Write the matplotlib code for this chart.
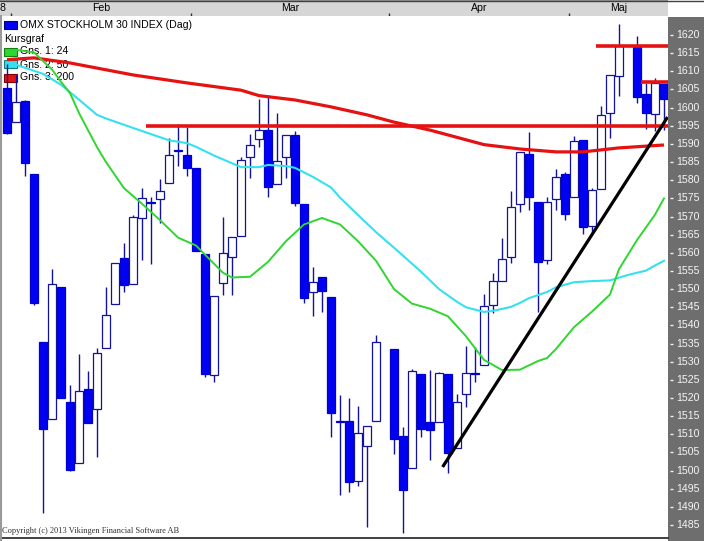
import numpy as np
import matplotlib
matplotlib.use("Agg")
import matplotlib.pyplot as plt
from matplotlib.patches import Rectangle

nan = np.nan
# ---------------- data (day index 0..73, gaps = holidays) ----------------
opens = [1605.4, 1596.1, 1601.8, 1581.7, 1535.4, 1514.1, 1550.7, 1518.9, 1502.0, 1522.5,
         1516.9, 1533.7, 1545.9, 1558.5, 1551.3, 1569.5, 1573.9, 1574.7, 1579.1, 1588.3,
         1586.9, 1583.3, 1559.7, 1526.3, 1551.6, 1558.9, 1564.6, 1586.3, 1591.3, 1593.8,
         1578.9, 1586.3, 1592.5, 1573.4, 1549.1, 1553.4, 1547.7, 1513.5, 1513.6, 1497.2,
         1506.8, 1513.6, nan, 1533.5, 1509.6, 1500.6, 1526.6, 1513.5, 1513.5, 1526.6,
         1506.1, 1521.0, 1526.7, 1529.0, 1545.6, 1552.2, 1558.8, 1573.4, 1587.2, 1573.9,
         1558.0, 1574.7, 1581.6, 1575.3, 1591.0, 1567.5, 1577.6, 1598.6, 1608.8, nan,
         1616.8, 1603.7, 1598.2, 1606.5]
highs = [1612.0, 1609.0, 1602.2, 1581.7, 1535.4, 1555.5, 1550.7, 1523.6, 1532.1, 1527.5,
         1533.7, 1550.5, 1557.3, 1562.6, 1570.4, 1577.8, 1575.3, 1580.3, 1591.5, 1595.4,
         1594.6, 1583.3, 1559.7, 1548.1, 1570.0, 1564.4, 1586.3, 1592.6, 1602.4, 1603.5,
         1598.4, 1592.4, 1593.6, 1573.4, 1556.2, 1553.4, 1547.7, 1520.8, 1520.1, 1517.8,
         1512.3, 1537.4, nan, 1533.5, 1512.1, 1528.0, 1526.6, 1527.7, 1527.2, 1526.6,
         1521.0, 1534.3, 1534.1, 1548.6, 1554.4, 1564.0, 1577.0, 1587.7, 1593.2, 1573.9,
         1575.3, 1583.0, 1582.3, 1592.2, 1591.0, 1577.8, 1600.4, 1609.0, 1623.0, nan,
         1619.8, 1606.9, 1608.2, 1606.5]
lows = [1592.7, 1596.0, 1581.2, 1545.6, 1488.4, 1514.1, 1520.0, 1500.0, 1502.0, 1513.2,
        1503.8, 1533.7, 1545.9, 1549.3, 1551.3, 1558.0, 1556.8, 1568.1, 1579.1, 1583.9,
        1581.2, 1560.6, 1525.7, 1524.5, 1548.4, 1548.4, 1564.6, 1580.5, 1589.2, 1575.5,
        1578.9, 1580.5, 1572.9, 1546.1, 1542.7, 1543.6, 1509.2, 1493.3, 1494.2, 1495.8,
        1484.5, 1513.6, nan, 1504.6, 1482.7, 1500.6, 1509.2, 1502.9, 1513.5, 1499.3,
        1506.1, 1517.6, 1524.5, 1529.0, 1543.3, 1552.2, 1557.1, 1571.2, 1571.8, 1543.8,
        1557.0, 1571.8, 1569.0, 1575.3, 1565.2, 1565.8, 1577.6, 1591.5, 1603.3, nan,
        1601.4, 1594.0, 1593.6, 1593.8]
closes = [1593.0, 1601.6, 1584.7, 1546.3, 1511.5, 1551.4, 1520.0, 1500.2, 1521.9, 1513.2,
          1532.3, 1542.8, 1557.3, 1551.0, 1570.0, 1575.0, 1573.7, 1577.1, 1586.9, 1588.1,
          1583.3, 1560.6, 1526.5, 1548.1, 1559.9, 1564.4, 1585.6, 1589.6, 1593.8, 1578.0,
          1585.3, 1592.4, 1573.7, 1547.5, 1552.0, 1549.6, 1516.0, 1513.3, 1496.9, 1510.3,
          1512.3, 1535.3, nan, 1508.7, 1494.7, 1527.5, 1511.5, 1511.2, 1526.8, 1504.8,
          1519.0, 1526.8, 1526.5, 1545.3, 1552.2, 1558.2, 1572.5, 1587.7, 1575.3, 1557.4,
          1573.9, 1580.8, 1570.6, 1590.9, 1567.0, 1577.3, 1598.0, 1609.0, 1617.0, nan,
          1603.0, 1598.4, 1606.9, 1602.3]

# moving averages (day index, value)
ma24_days = [0, 1, 3, 5, 6, 7, 8, 10, 11, 13, 15, 17, 19, 21, 22, 24, 25, 27, 29, 31, 33, 35,
             37, 39, 41, 43, 45, 47, 49, 51, 53, 55, 57, 59, 60, 61, 63, 65, 67, 68, 70, 72, 73]
ma24_vals = [1615.5, 1615.9, 1615.2, 1610.5, 1607.1, 1604.0, 1598.5, 1589.1, 1585.0, 1577.8,
             1573.5, 1569.0, 1564.2, 1562.0, 1559.5, 1554.5, 1553.2, 1553.4, 1557.5, 1563.2,
             1567.8, 1569.6, 1567.8, 1563.2, 1557.8, 1550.0, 1546.0, 1544.6, 1542.5, 1537.0,
             1530.5, 1527.7, 1527.8, 1530.2, 1531.0, 1533.5, 1539.5, 1543.8, 1548.5, 1555.5,
             1563.5, 1570.5, 1575.0]
ma50_days = [0, 1, 4, 6, 8, 10, 11, 14, 16, 18, 20, 21, 23, 26, 28, 29, 31, 32, 34, 36, 37, 39,
             41, 43, 45, 46, 48, 50, 51, 53, 54, 56, 57, 58, 60, 61, 63, 65, 67, 69, 71, 72, 73]
ma50_vals = [1612.4, 1611.8, 1609.3, 1606.3, 1602.2, 1598.0, 1597.0, 1594.4, 1592.7, 1591.0,
             1590.2, 1589.2, 1586.8, 1583.6, 1583.6, 1584.2, 1583.9, 1583.4, 1580.9, 1578.0,
             1575.2, 1570.4, 1565.7, 1561.4, 1557.0, 1554.8, 1550.0, 1546.5, 1545.0, 1543.7,
             1544.0, 1545.1, 1546.2, 1547.5, 1549.2, 1550.5, 1551.9, 1552.2, 1552.4, 1553.9,
             1555.1, 1556.5, 1557.8]
ma200_days = [0, 3, 7, 14, 20, 26, 28, 32, 36, 40, 43, 47, 50, 53, 57, 61, 64, 68, 73]
ma200_vals = [1613.2, 1613.7, 1612.3, 1609.0, 1606.8, 1604.8, 1603.3, 1602.1, 1600.2, 1598.0,
              1596.0, 1593.8, 1591.8, 1589.8, 1588.6, 1587.8, 1587.8, 1588.9, 1589.7]

# drawn horizontal levels (value, first day) and trend line
levels = [1595.0, 1617.0, 1607.0]
level_start = [15.4, 65.4, 70.4]
trend_days = [48.4, 73.4]
trend_vals = [1501.0, 1597.4]

price_ticks = list(range(1485, 1625, 5))
month_labels = ["8", "Feb", "Mar", "Apr", "Maj"]
month_bounds = [-0.78, 0.44, 20.44, 42.4, 62.44, 73.44]

legend_items = ["OMX STOCKHOLM 30 INDEX (Dag)", "Kursgraf", "Gns. 1: 24", "Gns. 2: 50", "Gns. 3: 200"]

# ---------------- layout helpers ----------------
W, H = 704, 541
fig = plt.figure(figsize=(W / 100, H / 100), dpi=100)
fig.patch.set_facecolor("white")

def fx(px):
    return px / W

def fy(py):
    return 1 - py / H

def idx_of(px):
    return (px - 7.0) / 9.0

def price_of(py):
    return 1620.0 - (py - 35.0) / 3.63

FONT = ["Liberation Sans", "DejaVu Sans"]
BLUE = "#0000f2"
EDGE = "#12129c"
GREEN = "#2fd62f"
CYAN = "#35e1ee"
RED = "#e61212"

# ---------------- main plot ----------------
ax = fig.add_axes([fx(2), fy(537), fx(668) - fx(2), fy(16) - fy(537)])
ax.set_xlim(idx_of(2), idx_of(668))
ax.set_ylim(price_of(537), price_of(16))
ax.set_facecolor("white")
for s in ax.spines.values():
    s.set_visible(False)
ax.set_xticks([])
ax.set_yticks([])

for i in range(len(opens)):
    o, h, l, c = opens[i], highs[i], lows[i], closes[i]
    if np.isnan(o):
        continue
    ax.vlines(i, l, h, color=EDGE, lw=1.0, zorder=2)
    down = c < o
    bottom = min(o, c)
    height = max(abs(c - o), 0.25)
    ax.add_patch(Rectangle((i - 0.4, bottom), 0.8, height,
                           facecolor=BLUE if down else "white",
                           edgecolor=("#0000d0" if down else EDGE), lw=0.9, zorder=3))

# legend text (under the lines)
leg_y = [25, 38.5, 51.5, 64.5, 77.5]
leg_col = [BLUE, None, GREEN, CYAN, RED]
leg_edge = ["#000080", None, "#108010", "#108080", "#800000"]
for txt, yy, col, ec in zip(legend_items, leg_y, leg_col, leg_edge):
    x_text = 20 if col is not None else 4
    ax.text(fx(x_text), fy(yy), txt, transform=fig.transFigure, fontsize=7.6,
            family=FONT, color="black", va="center", ha="left", zorder=1)
    if col is not None:
        ax.add_patch(Rectangle((fx(4), fy(yy + 4)), fx(13), fy(0) - fy(8),
                               transform=fig.transFigure, facecolor=col, edgecolor=ec,
                               lw=0.8, zorder=1, clip_on=False))

ax.plot(ma200_days, ma200_vals, color=RED, lw=2.3, zorder=5, solid_capstyle="butt")
ax.plot(ma50_days, ma50_vals, color=CYAN, lw=1.5, zorder=5)
ax.plot(ma24_days, ma24_vals, color=GREEN, lw=1.4, zorder=5)
xmax = idx_of(668)
for lv, st in zip(levels, level_start):
    ax.hlines(lv, st, xmax, color=RED, lw=2.6, zorder=6)
ax.plot(trend_days, trend_vals, color="black", lw=2.3, zorder=7, solid_capstyle="butt")

ax.text(fx(2), fy(531), "Copyright (c) 2013 Vikingen Financial Software AB",
        transform=fig.transFigure, fontsize=6.0, family=["Liberation Serif", "DejaVu Serif"],
        color="#303030", va="center", ha="left", zorder=8)

# ---------------- header with months ----------------
axh = fig.add_axes([fx(0), fy(16), fx(668), fy(0) - fy(16)])
axh.set_xlim(idx_of(0), idx_of(668))
axh.set_ylim(0, 1)
axh.set_facecolor("#d6d6d6")
for s in axh.spines.values():
    s.set_visible(False)
axh.set_xticks([])
axh.set_yticks([])
axh.axhline(0.98, color="#8a8a8a", lw=1.2)
for b in month_bounds[1:-1]:
    axh.vlines(b, 0, 0.18, color="#303030", lw=1.0)
for k, name in enumerate(month_labels):
    if k == 0:
        axh.text(idx_of(0), 0.5, name, fontsize=7.6, family=FONT, ha="left", va="center")
    else:
        axh.text((month_bounds[k] + month_bounds[k + 1]) / 2, 0.5, name, fontsize=7.6,
                 family=FONT, ha="center", va="center")

# ---------------- right price panel ----------------
axr = fig.add_axes([fx(668), fy(541), fx(704) - fx(668), fy(17) - fy(541)])
axr.set_xlim(0, 36)
axr.set_ylim(price_of(541), price_of(17))
axr.set_facecolor("#6e6e6e")
for s in axr.spines.values():
    s.set_visible(False)
axr.set_xticks([])
axr.set_yticks([])
for p in price_ticks:
    axr.hlines(p, 1.5, 4.5, color="#f2f2f2", lw=1.0)
    axr.text(8.5, p, str(p), fontsize=7.6, family=FONT, color="#f6f6f6",
             ha="left", va="center")

# borders
fig.add_artist(plt.Line2D([fx(0), fx(668)], [fy(537.5), fy(537.5)], color="#202020", lw=1.2))
fig.add_artist(plt.Line2D([fx(0.8), fx(0.8)], [fy(16), fy(541)], color="#9a9a9a", lw=1.5))
fig.add_artist(plt.Line2D([fx(0), fx(704)], [fy(0.5), fy(0.5)], color="#404040", lw=1.0))

fig.savefig("out.png", dpi=100, facecolor="white")
